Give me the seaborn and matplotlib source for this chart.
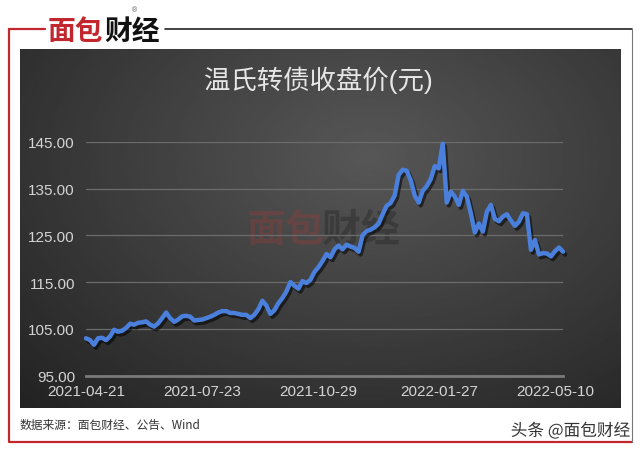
import numpy as np
import matplotlib
matplotlib.use("Agg")
import matplotlib.pyplot as plt
import matplotlib.patheffects as pe
import seaborn as sns

# 温氏转债收盘价（约每两个交易日取一个点，从图上读出）
close_price = [
    103.0, 102.6, 101.6, 103.0, 103.1, 102.6, 103.4, 104.8, 104.4, 104.6,
    105.2, 106.1, 105.9, 106.3, 106.4, 106.6, 105.9, 105.5, 106.2, 107.3,
    108.5, 107.3, 106.5, 107.0, 107.7, 107.8, 107.6, 106.8, 106.9, 107.0,
    107.3, 107.6, 108.0, 108.5, 108.8, 108.8, 108.4, 108.4, 108.2, 108.0,
    108.0, 107.3, 108.0, 109.2, 111.0, 110.0, 108.2, 109.0, 110.5, 111.6,
    113.0, 115.0, 114.2, 113.6, 115.2, 114.8, 115.5, 117.2, 118.2, 119.5,
    121.0, 120.3, 122.0, 122.8, 122.0, 123.0, 122.6, 122.3, 121.5, 125.0,
    125.9, 126.2, 126.7, 127.5, 129.5, 131.3, 131.9, 133.5, 137.9, 139.0,
    138.8, 136.8, 133.5, 132.0, 134.5, 135.5, 137.0, 139.8, 139.3, 144.6,
    132.0, 134.3, 133.3, 131.5, 134.5, 133.3, 129.7, 125.6, 127.5, 125.8,
    130.0, 131.5, 128.5, 128.0, 129.0, 129.5, 128.2, 127.0, 127.9, 129.7,
    129.5, 121.9, 124.0, 120.9, 121.2, 121.1, 120.5, 121.6, 122.4, 121.5,
]
tick_pos = [0, 29, 58, 88, 117]
tick_labels = ["2021-04-21", "2021-07-23", "2021-10-29", "2022-01-27", "2022-05-10"]
y_ticks = [95, 105, 115, 125, 135, 145]

title = "温氏转债收盘价(元)"
source = "数据来源：面包财经、公告、Wind"
red = "#c1272d"

sns.set_theme(style="dark")
plt.rcParams["font.family"] = ["Liberation Sans", "Noto Sans CJK SC", "DejaVu Sans"]

fig = plt.figure(figsize=(6.4, 4.52), dpi=100)
fig.patch.set_facecolor("white")

# frame and logo (pixel coordinates)
deco = fig.add_axes([0, 0, 1, 1], zorder=0)
deco.set_xlim(0, 640)
deco.set_ylim(452, 0)
deco.axis("off")
deco.plot([9, 9, 632], [30, 443, 443], color=red, lw=1.6)
deco.plot([9, 45], [30, 30], color=red, lw=1.6)
deco.plot([165, 632], [30, 30], color="#222222", lw=1.2)
deco.plot([632, 632], [30, 443], color="#777777", lw=0.8)
deco.text(48, 32, "面包", color=red, fontsize=20, fontweight="bold",
          family=["Noto Sans CJK SC"], ha="left", va="center")
deco.text(104, 32, "财经", color="#111111", fontsize=20, fontweight="bold",
          family=["Noto Sans CJK SC"], ha="left", va="center")
deco.text(134, 11, "®", color="#555555", fontsize=5, ha="center", va="center")
deco.text(20, 425, source, color="#333333", fontsize=8.5,
          family=["Noto Sans CJK SC"], ha="left", va="center")

# dark gradient panel
bg = fig.add_axes([20 / 640, 1 - 409 / 452, 601 / 640, 359 / 452], zorder=1)
gx, gy = np.meshgrid(np.linspace(0, 1, 300), np.linspace(0, 1, 200))
r = np.sqrt(((gx - 0.58) / 0.7) ** 2 + ((gy - 0.3) / 0.8) ** 2)
shade = np.clip(0.34 - 0.17 * r, 0.13, 1)
bg.imshow(shade, cmap="gray", vmin=0, vmax=1, extent=[20, 621, 409, 50], aspect="auto")
bg.set_xlim(20, 621)
bg.set_ylim(409, 50)
bg.axis("off")
bg.text(246, 230, "面包", color="#a03a3a", alpha=0.32, fontsize=28, fontweight="bold",
        family=["Noto Sans CJK SC"], ha="left", va="center")
bg.text(322, 230, "财经", color="#1e1e1e", alpha=0.35, fontsize=28, fontweight="bold",
        family=["Noto Sans CJK SC"], ha="left", va="center")
bg.text(318, 80, title, color="#e6e6e6", fontsize=19, ha="center", va="center")

# line chart
ax = fig.add_axes([86 / 640, 1 - 376.7 / 452, 477 / 640, 234 / 452], zorder=2)
ax.set_facecolor("none")
idx = list(range(len(close_price)))
sns.lineplot(x=idx, y=close_price, ax=ax, color="#4a80dc", lw=3.2,
             path_effects=[pe.SimpleLineShadow(offset=(1.5, -2), shadow_color="black", alpha=0.55),
                           pe.Normal()])
for ln in ax.get_lines():
    ln.set_clip_on(False)
ax.set_xlim(0, len(close_price) - 1)
ax.set_ylim(95, 145)
ax.set_yticks(y_ticks)
ax.set_yticklabels([f"{v:.2f}" for v in y_ticks])
ax.set_xticks(tick_pos)
ax.set_xticklabels(tick_labels)
ax.tick_params(axis="both", length=0, colors="#d4d4d4", labelsize=11)
ax.tick_params(axis="y", pad=8)
ax.tick_params(axis="x", pad=6)
ax.yaxis.grid(True, color="#6c6c6c", lw=0.9)
ax.xaxis.grid(False)
ax.set_axisbelow(True)
for s in ["top", "right", "left"]:
    ax.spines[s].set_visible(False)
ax.spines["bottom"].set_color("#7a7a7a")
ax.spines["bottom"].set_linewidth(2)
ax.set_xlabel("")
ax.set_ylabel("")

# top watermark
top = fig.add_axes([0, 0, 1, 1], zorder=3)
top.set_xlim(0, 640)
top.set_ylim(452, 0)
top.axis("off")
top.text(630, 432, "头条 @面包财经", color="#333333", fontsize=12,
         family=["Noto Sans CJK SC"], ha="right", va="center",
         path_effects=[pe.withStroke(linewidth=2.5, foreground="white")])

fig.savefig("out.png", dpi=100, facecolor="white")
